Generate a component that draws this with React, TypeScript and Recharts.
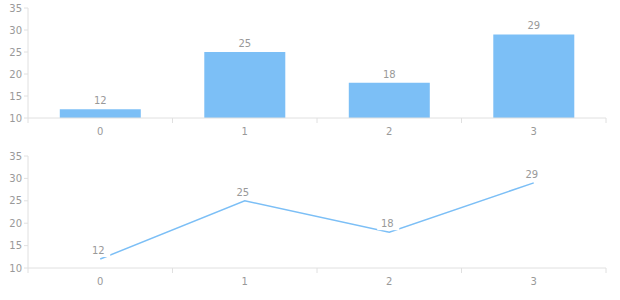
import {
  ComposedChart,
  Bar,
  Line,
  XAxis,
  YAxis,
  LabelList,
} from 'recharts';

const CATEGORIES = ['0', '1', '2', '3'];
const VALUES = [12, 25, 18, 29];
const Y_TICKS = [10, 15, 20, 25, 30, 35];

const BLUE = '#7cbff6';
const AXIS = '#e0e0e0';
const TEXT = '#999999';
const FONT = 'DejaVu Sans, sans-serif';

const TICK_SIZE = 5;
const TICK_MARGIN = 3;

const data = CATEGORIES.map((name, i) => ({ name, value: VALUES[i] }));

function LineLabel(props: any): JSX.Element {
  const { x, y, value } = props;
  return (
    <g>
      <rect x={x - 12} y={y - 16} width={22} height={14} fill="#ffffff" />
      <text
        x={x - 2}
        y={y - 8}
        textAnchor="middle"
        dominantBaseline="middle"
        fill={TEXT}
        fontSize={10}
        fontFamily={FONT}
      >
        {value}
      </text>
    </g>
  );
}

// category label in the band centre, tick marks on the band edges
function EdgeTick(props: any): JSX.Element {
  const { x, y, payload, index, visibleTicksCount } = props;
  const half = payload?.offset ?? 0;
  const top = y - TICK_SIZE - TICK_MARGIN;
  const last = index === visibleTicksCount - 1;
  return (
    <g>
      <line x1={x - half} x2={x - half} y1={top} y2={top + TICK_SIZE} stroke={AXIS} />
      {last && (
        <line x1={x + half} x2={x + half} y1={top} y2={top + TICK_SIZE} stroke={AXIS} />
      )}
      <text
        x={x}
        y={y + 9}
        textAnchor="middle"
        fill={TEXT}
        fontSize={10}
        fontFamily={FONT}
      >
        {payload.value}
      </text>
    </g>
  );
}

const tickStyle = { fill: TEXT, fontSize: 10, fontFamily: FONT };

function axes(): JSX.Element[] {
  return [
    <XAxis
      key="main"
      dataKey="name"
      scale="band"
      tickLine={false}
      axisLine={{ stroke: AXIS }}
      tick={EdgeTick}
      tickSize={TICK_SIZE}
      tickMargin={TICK_MARGIN}
      interval={0}
      height={30}
    />,
    <YAxis
      key="y"
      domain={[10, 35]}
      ticks={Y_TICKS}
      width={28}
      axisLine={{ stroke: AXIS }}
      tickLine={{ stroke: AXIS }}
      tickSize={4}
      tick={tickStyle}
      interval={0}
    />,
  ];
}

export default function App(): JSX.Element {
  return (
    <div
      style={{
        position: 'fixed',
        left: 0,
        top: 0,
        width: 620,
        height: 300,
        background: '#ffffff',
        fontFamily: FONT,
      }}
    >
      <ComposedChart
        width={620}
        height={148}
        data={data}
        margin={{ top: 8, right: 14, left: 0, bottom: 0 }}
        barCategoryGap="22%"
      >
        {axes()}
        <Bar dataKey="value" fill={BLUE} isAnimationActive={false}>
          <LabelList dataKey="value" position="top" offset={5} fill={TEXT} fontSize={10} fontFamily={FONT} />
        </Bar>
      </ComposedChart>
      <ComposedChart
        width={620}
        height={150}
        data={data}
        margin={{ top: 8, right: 14, left: 0, bottom: 0 }}
      >
        {axes()}
        <Line
          type="linear"
          dataKey="value"
          stroke={BLUE}
          strokeWidth={1.5}
          dot={false}
          isAnimationActive={false}
        >
          <LabelList dataKey="value" content={LineLabel} />
        </Line>
      </ComposedChart>
    </div>
  );
}
